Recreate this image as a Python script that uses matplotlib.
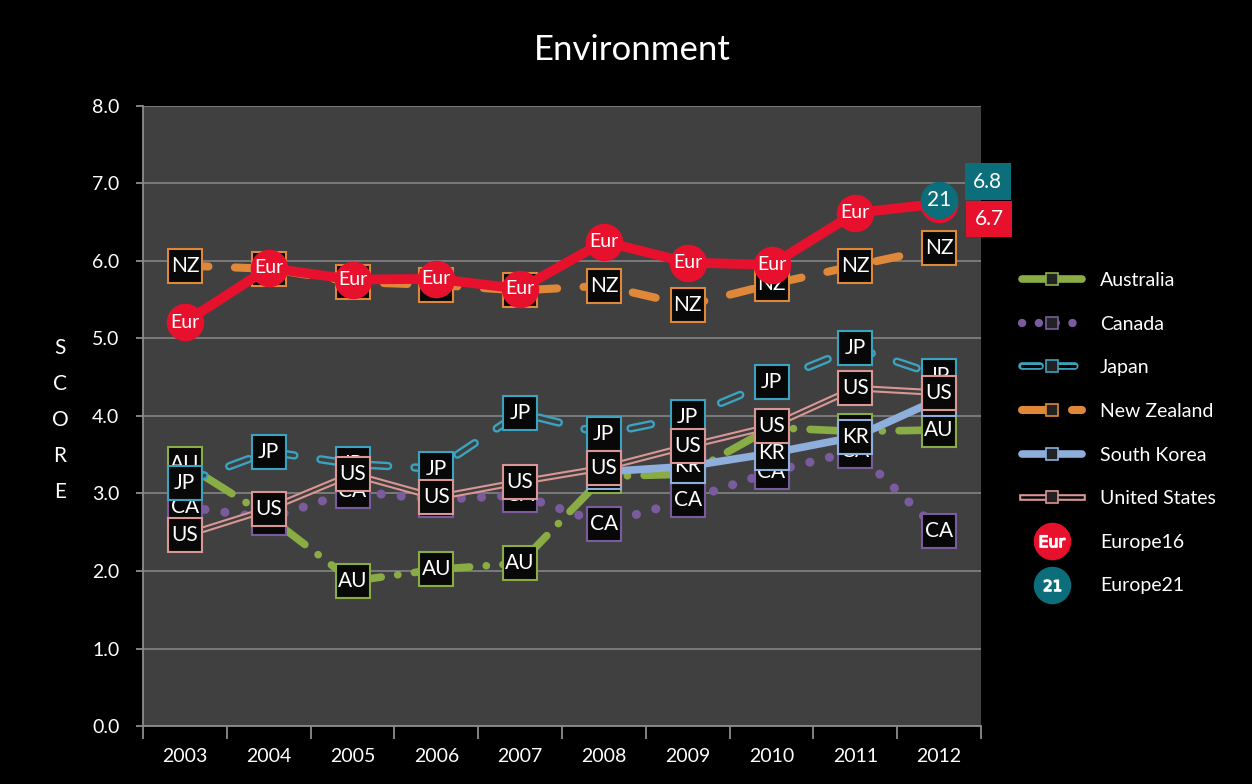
import matplotlib
matplotlib.use('Agg')
import matplotlib.pyplot as plt
import numpy as np
from matplotlib.lines import Line2D
from matplotlib.legend_handler import HandlerTuple

plt.rcParams['font.family'] = ['Lato', 'DejaVu Sans']
plt.rcParams['lines.scale_dashes'] = False

years = ['2003', '2004', '2005', '2006', '2007', '2008', '2009', '2010', '2011', '2012']
australia = [3.38, 2.70, 1.87, 2.02, 2.10, 3.22, 3.25, 3.85, 3.80, 3.82]
canada = [2.83, 2.68, 3.03, 2.92, 2.98, 2.61, 2.92, 3.28, 3.55, 2.52]
japan = [3.14, 3.54, 3.38, 3.32, 4.04, 3.77, 3.99, 4.44, 4.88, 4.52]
new_zealand = [5.94, 5.90, 5.73, 5.69, 5.62, 5.68, 5.43, 5.70, 5.94, 6.17]
south_korea = [np.nan, np.nan, np.nan, np.nan, np.nan, 3.28, 3.35, 3.52, 3.73, 4.22]
united_states = [2.46, 2.80, 3.25, 2.95, 3.15, 3.33, 3.61, 3.87, 4.36, 4.30]
europe16 = [5.21, 5.91, 5.76, 5.77, 5.64, 6.25, 5.98, 5.95, 6.62, 6.74]
europe21 = [np.nan] * 9 + [6.79]

BG = '#404040'
C_AU = '#8aac45'
C_CA = '#7a5c9e'
C_JP = '#3aa3c0'
C_NZ = '#e0883a'
C_KR = '#8eaedb'
C_US = '#d99694'
C_EU = '#e8112d'
C_E21 = '#0b6e7a'

fig = plt.figure(figsize=(12.52, 7.84), dpi=100, facecolor='black')
ax = fig.add_axes([143 / 1252, 1 - 726 / 784, (981 - 143) / 1252, (726 - 106) / 784])
ax.set_facecolor(BG)
x = np.arange(len(years))


def boxes(vals, color, tag, z):
    ax.plot(x, vals, ls='none', marker='s', ms=25, mfc='#080808', mec=color, mew=1.5, zorder=z)
    for xi, v in zip(x, vals):
        if not np.isnan(v):
            ax.text(xi, v, tag, color='white', fontsize=15, ha='center', va='center', zorder=z + 0.01)


# Australia: long dash-dot
ax.plot(x, australia, color=C_AU, lw=5.5, dashes=(40, 12, 0.1, 12), dash_capstyle='round', zorder=3)
boxes(australia, C_AU, 'AU', 3.05)
# Canada: round dots
ax.plot(x, canada, color=C_CA, lw=6.5, dashes=(0.1, 14.4), dash_capstyle='round', zorder=3.1)
boxes(canada, C_CA, 'CA', 3.15)
# Japan: hollow dashes
ax.plot(x, japan, color=C_JP, lw=6.0, dashes=(15, 19), dash_capstyle='round', zorder=3.2)
ax.plot(x, japan, color=BG, lw=2.6, dashes=(15, 19), dash_capstyle='round', zorder=3.21)
boxes(japan, C_JP, 'JP', 3.25)
# New Zealand: long dashes
ax.plot(x, new_zealand, color=C_NZ, lw=5.8, dashes=(17, 19), dash_capstyle='round', zorder=3.3)
boxes(new_zealand, C_NZ, 'NZ', 3.35)
# South Korea
ax.plot(x, south_korea, color=C_KR, lw=5.5, solid_capstyle='round', zorder=3.4)
boxes(south_korea, C_KR, 'KR', 3.45)
# United States: double line
ax.plot(x, united_states, color=C_US, lw=4.8, zorder=3.5)
ax.plot(x, united_states, color=BG, lw=1.8, zorder=3.51)
boxes(united_states, C_US, 'US', 3.55)
# Europe16
ax.plot(x, europe16, color=C_EU, lw=7, solid_capstyle='round', marker='o', ms=26,
        mfc=C_EU, mec=C_EU, zorder=3.6)
for xi, v in zip(x, europe16):
    ax.text(xi, v, 'Eur', color='white', fontsize=14, ha='center', va='center', zorder=3.61)
# Europe21
ax.plot(x, europe21, ls='none', marker='o', ms=26, mfc=C_E21, mec=C_E21, zorder=3.7)
ax.text(x[-1], europe21[-1], '21', color='white', fontsize=15, ha='center', va='center', zorder=3.71)

# data labels for final values
ax.annotate(f'{europe21[-1]:.1f}', (x[-1], europe21[-1]), xytext=(35, 13), textcoords='offset points',
            color='white', fontsize=15, ha='center', va='center', annotation_clip=False, zorder=5,
            bbox=dict(boxstyle='square,pad=0.4', fc=C_E21, ec='none'))
ax.annotate(f'{europe16[-1]:.1f}', (x[-1], europe16[-1]), xytext=(36, -11), textcoords='offset points',
            color='white', fontsize=15, ha='center', va='center', annotation_clip=False, zorder=5,
            bbox=dict(boxstyle='square,pad=0.4', fc=C_EU, ec='none'))

ax.set_xlim(-0.5, len(years) - 0.5)
ax.set_ylim(0, 8)
ax.set_yticks(np.arange(0, 8.01, 1.0))
ax.set_yticklabels([f'{v:.1f}' for v in np.arange(0, 8.01, 1.0)])
ax.set_xticks(x)
ax.set_xticklabels(years)
ax.set_xticks(np.arange(-0.5, len(years), 1.0), minor=True)
ax.grid(axis='y', color='#7f7f7f', lw=1.3, zorder=1)
ax.set_axisbelow(True)
for s in ('top', 'right'):
    ax.spines[s].set_visible(False)
for s in ('left', 'bottom'):
    ax.spines[s].set_color('#8c8c8c')
    ax.spines[s].set_linewidth(1.3)
ax.tick_params(axis='y', colors='#8c8c8c', labelcolor='white', labelsize=14, length=5, width=1.3, pad=12)
ax.tick_params(axis='x', which='major', length=0, labelcolor='white', labelsize=14, pad=16)
ax.tick_params(axis='x', which='minor', colors='#8c8c8c', length=9, width=1.3)

fig.text(632 / 1252, 1 - 50 / 784, 'Environment', color='white', fontsize=25, ha='center', va='center')
fig.text(60 / 1252, 1 - 420 / 784, 'S\nC\nO\nR\nE', color='white', fontsize=15, ha='center', va='center',
         linespacing=2.0)

# legend
def sq(color):
    return Line2D([], [], ls='none', marker='s', ms=8, mfc='#222222', mec=color, mew=1.2)

h_au = (Line2D([], [], color=C_AU, lw=5.5, solid_capstyle='round'), sq(C_AU))
h_ca = (Line2D([], [], color=C_CA, lw=6.0, dashes=(0.1, 12), dash_capstyle='round'), sq(C_CA))
h_jp = (Line2D([], [], color=C_JP, lw=5.5, dashes=(13, 12), dash_capstyle='round'),
        Line2D([], [], color='black', lw=2.2, dashes=(13, 12), dash_capstyle='round'), sq(C_JP))
h_nz = (Line2D([], [], color=C_NZ, lw=5.8, dashes=(17, 19), dash_capstyle='round'), sq(C_NZ))
h_kr = (Line2D([], [], color=C_KR, lw=5.5, solid_capstyle='round'), sq(C_KR))
h_us = (Line2D([], [], color=C_US, lw=4.8), Line2D([], [], color='black', lw=1.8), sq(C_US))
h_eu = (Line2D([], [], ls='none', marker='o', ms=26, mfc=C_EU, mec=C_EU),
        Line2D([], [], ls='none', marker=r'$\mathsf{Eur}$', ms=18, color='white'))
h_e21 = (Line2D([], [], ls='none', marker='o', ms=26, mfc=C_E21, mec=C_E21),
         Line2D([], [], ls='none', marker=r'$\mathsf{21}$', ms=12, color='white'))

leg = fig.legend([h_au, h_ca, h_jp, h_nz, h_kr, h_us, h_eu, h_e21],
                 ['Australia', 'Canada', 'Japan', 'New Zealand', 'South Korea', 'United States',
                  'Europe16', 'Europe21'],
                 handler_map={tuple: HandlerTuple(ndivide=1, pad=0)},
                 loc='upper left', bbox_to_anchor=(1022 / 1252, 1 - 272 / 784),
                 frameon=False, fontsize=14, labelcolor='white', handlelength=3.1,
                 handletextpad=0.9, labelspacing=1.37, borderpad=0, borderaxespad=0)

fig.savefig('out.png', dpi=100, facecolor='black')
